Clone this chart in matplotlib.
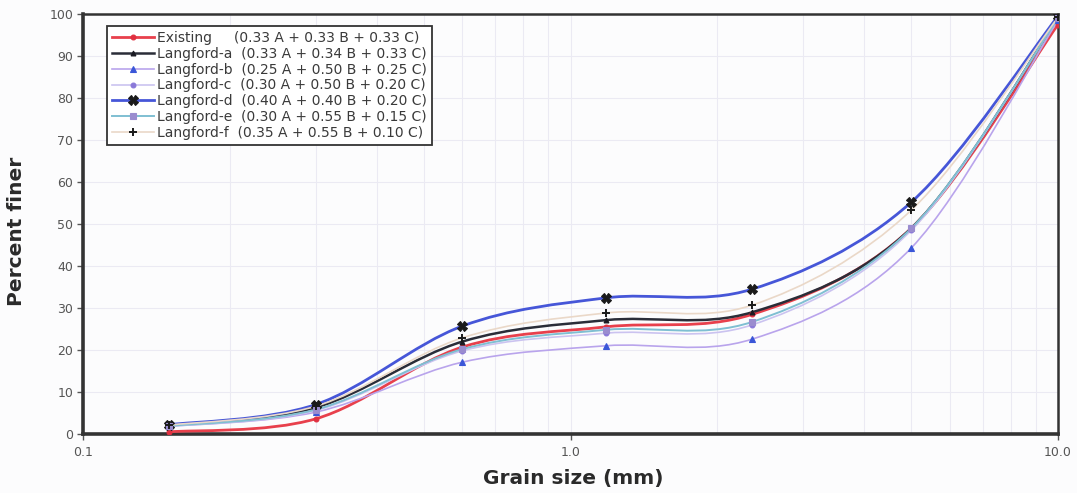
import numpy as np
import matplotlib
matplotlib.use("Agg")
import matplotlib.pyplot as plt
from matplotlib.path import Path
from matplotlib.patches import PathPatch
from matplotlib.lines import Line2D
from matplotlib.ticker import FixedLocator, LogLocator, NullFormatter

# Sieve sizes (mm) and percent passing for each blend
grain_size = [0.15, 0.3, 0.6, 1.18, 2.36, 5.0, 10.0]

existing   = [0.5, 3.6, 20.7, 25.5, 28.5, 49.0, 97.5]
langford_a = [2.0, 6.3, 22.0, 27.1, 29.0, 49.0, 99.0]
langford_b = [1.8, 5.2, 17.1, 21.0, 22.6, 44.3, 98.5]
langford_c = [1.8, 5.6, 19.8, 24.0, 26.0, 48.5, 99.0]
langford_d = [2.2, 7.0, 25.7, 32.4, 34.5, 55.2, 99.5]
langford_e = [1.9, 5.8, 20.2, 24.8, 26.7, 49.0, 99.0]
langford_f = [2.1, 6.6, 22.9, 28.8, 30.7, 53.3, 99.2]

labels = [
    "Existing     (0.33 A + 0.33 B + 0.33 C)",
    "Langford-a  (0.33 A + 0.34 B + 0.33 C)",
    "Langford-b  (0.25 A + 0.50 B + 0.25 C)",
    "Langford-c  (0.30 A + 0.50 B + 0.20 C)",
    "Langford-d  (0.40 A + 0.40 B + 0.20 C)",
    "Langford-e  (0.30 A + 0.55 B + 0.15 C)",
    "Langford-f  (0.35 A + 0.55 B + 0.10 C)",
]

x_ticks = [0.1, 1.0, 10.0]
x_ticklabels = ["0.1", "1.0", "10.0"]
y_ticks = list(range(0, 101, 10))

series = [existing, langford_a, langford_b, langford_c,
          langford_d, langford_e, langford_f]

# line colour, line width, marker, marker face, marker edge, marker size
styles = [
    ("#e8404c", 2.0, "o", "#e03040", "#e03040", 3.5),
    ("#2a2d38", 1.8, "^", "#1a1a22", "#1a1a22", 3.5),
    ("#b9a4ec", 1.2, "^", "#3a56d8", "#3a56d8", 4.5),
    ("#cbc3f0", 1.2, "o", "#8a78d8", "#8a78d8", 3.5),
    ("#4656d8", 2.0, "X", "#1a1a1a", "#1a1a1a", 6.5),
    ("#7fbfd2", 1.4, "s", "#9a8ccf", "#9a8ccf", 4.0),
    ("#ead8c8", 1.2, "+", "#1a1a1a", "#1a1a1a", 6.0),
]


def smooth_path(xs, ys):
    """Catmull-Rom curve through the points, built as cubic Bezier
    segments in (log10 x, y) and mapped back to data coordinates."""
    lx = np.log10(np.asarray(xs, float))
    yy = np.asarray(ys, float)
    n = len(lx)
    verts = [(xs[0], ys[0])]
    codes = [Path.MOVETO]
    for i in range(n - 1):
        i0 = max(i - 1, 0)
        i3 = min(i + 2, n - 1)
        c1x = lx[i] + (lx[i + 1] - lx[i0]) / 6.0
        c1y = yy[i] + (yy[i + 1] - yy[i0]) / 6.0
        c2x = lx[i + 1] - (lx[i3] - lx[i]) / 6.0
        c2y = yy[i + 1] - (yy[i3] - yy[i]) / 6.0
        verts += [(10 ** c1x, c1y), (10 ** c2x, c2y), (xs[i + 1], ys[i + 1])]
        codes += [Path.CURVE4] * 3
    return Path(verts, codes)


fig = plt.figure(figsize=(10.77, 4.93), dpi=100)
fig.patch.set_facecolor("#fcfcfd")
ax = fig.add_axes([0.0771, 0.1197, 0.9053, 0.8519])
ax.set_facecolor("#fcfcfd")

ax.set_xscale("log")
ax.set_xlim(0.1, 10.0)
ax.set_ylim(0, 100)

handles = []
for vals, lab, (lc, lw, mk, mfc, mec, ms) in zip(series, labels, styles):
    patch = PathPatch(smooth_path(grain_size, vals), facecolor="none",
                      edgecolor=lc, linewidth=lw, zorder=3,
                      capstyle="round", joinstyle="round")
    ax.add_patch(patch)
    ax.plot(grain_size, vals, linestyle="none", marker=mk, markersize=ms,
            markerfacecolor=mfc, markeredgecolor=mec,
            markeredgewidth=1.4 if mk == "+" else 0.8, zorder=4)
    handles.append(Line2D([], [], color=lc, linewidth=lw, marker=mk,
                          markersize=ms, markerfacecolor=mfc,
                          markeredgecolor=mec,
                          markeredgewidth=1.4 if mk == "+" else 0.8,
                          label=lab))

# Ticks and grid
ax.xaxis.set_major_locator(FixedLocator(x_ticks))
ax.set_xticklabels(x_ticklabels)
ax.xaxis.set_minor_locator(LogLocator(base=10, subs=np.arange(2, 10)))
ax.xaxis.set_minor_formatter(NullFormatter())
ax.set_yticks(y_ticks)

ax.grid(True, which="both", axis="x", color="#ebeaf3", linewidth=0.8)
ax.grid(True, which="major", axis="y", color="#ebeaf3", linewidth=0.8)
ax.set_axisbelow(True)

ax.tick_params(axis="both", which="major", direction="out", length=4,
               width=1.0, color="#555555", labelcolor="#555555",
               labelsize=9)
ax.tick_params(axis="x", which="minor", length=0)
ax.tick_params(axis="x", which="major", pad=5)
ax.tick_params(axis="y", which="major", pad=3)
for t in ax.get_xticklabels() + ax.get_yticklabels():
    t.set_fontfamily("DejaVu Sans")

for side, lw in (("left", 2.6), ("bottom", 2.6), ("top", 1.8), ("right", 1.8)):
    ax.spines[side].set_linewidth(lw)
    ax.spines[side].set_color("#333333")

ax.set_xlabel("Grain size (mm)", fontsize=14.5, fontweight="bold",
              family="DejaVu Sans", color="#2a2a2a", va="center")
ax.set_ylabel("Percent finer", fontsize=14.5, fontweight="bold",
              family="DejaVu Sans", color="#2a2a2a", va="center")
ax.xaxis.set_label_coords(0.503, -0.105)
ax.yaxis.set_label_coords(-0.068, 0.483)

leg = ax.legend(handles=handles, loc="upper left",
                bbox_to_anchor=(0.0246, 0.971), borderaxespad=0,
                frameon=True, fancybox=False, shadow=False,
                handlelength=3.0, handletextpad=0.25, labelspacing=0.13,
                borderpad=0.35, numpoints=1,
                prop={"family": "DejaVu Sans", "size": 10})
leg.get_frame().set_edgecolor("#333333")
leg.get_frame().set_linewidth(1.3)
leg.get_frame().set_facecolor("white")
leg.get_frame().set_alpha(1.0)
for t in leg.get_texts():
    t.set_color("#3a3a3a")
leg.set_zorder(5)

fig.savefig("out.png", dpi=100, facecolor=fig.get_facecolor())
